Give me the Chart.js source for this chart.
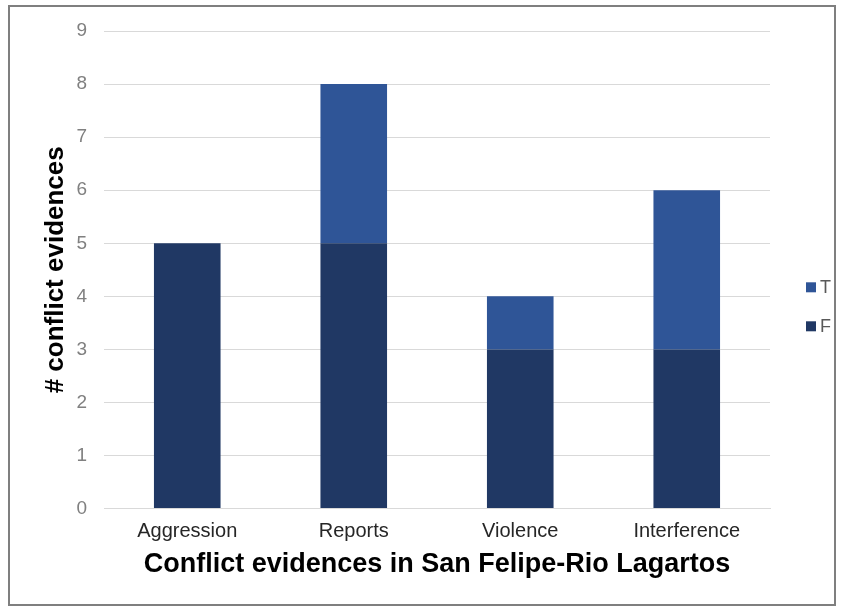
<!DOCTYPE html>
<html>
<head>
<meta charset="utf-8">
<script src="https://cdn.jsdelivr.net/npm/chart.js@4/dist/chart.umd.min.js"></script>
<style>
  html, body { margin: 0; padding: 0; background: #ffffff; }
  #wrap { width: 843px; height: 609px; position: relative; }
</style>
</head>
<body>
<div id="wrap"><canvas id="chart" width="843" height="609"></canvas></div>
<script>
// Conflict evidence counts per category, split by flag F / T
const categories = ['Aggression', 'Reports', 'Violence', 'Interference'];
const valuesF = [5, 5, 3, 3];
const valuesT = [0, 3, 1, 3];
const yTicks = [0, 1, 2, 3, 4, 5, 6, 7, 8, 9];

const colorF = '#203864';
const colorT = '#2F5597';
const FONT = 'Liberation Sans, Arial, sans-serif';

// White background and grey frame around the whole figure
const framePlugin = {
  id: 'frame',
  beforeDraw(chart) {
    const ctx = chart.ctx;
    ctx.save();
    ctx.fillStyle = '#ffffff';
    ctx.fillRect(0, 0, chart.width, chart.height);
    ctx.strokeStyle = '#7f7f7f';
    ctx.lineWidth = 2;
    ctx.strokeRect(9, 6, 826, 599);
    ctx.restore();
  }
};

// Legend to the right of the plot: top item is the upper stack (T)
const sideLegend = {
  id: 'sideLegend',
  afterDraw(chart) {
    const ctx = chart.ctx;
    const area = chart.chartArea;
    const items = chart.data.datasets.map(d => ({ label: d.label, color: d.backgroundColor })).reverse();
    const box = 10, gap = 39;
    const x = area.right + 36;
    const midY = (area.top + area.bottom) / 2;
    let y = midY + 17.5;
    ctx.save();
    ctx.font = '18px ' + FONT;
    ctx.textBaseline = 'middle';
    items.forEach(it => {
      ctx.fillStyle = it.color;
      ctx.fillRect(x, y - box / 2, box, box);
      ctx.fillStyle = '#595959';
      ctx.fillText(it.label, x + box + 4, y + 1);
      y += gap;
    });
    ctx.restore();
  }
};

new Chart(document.getElementById('chart'), {
  type: 'bar',
  data: {
    labels: categories,
    datasets: [
      { label: 'F', data: valuesF, backgroundColor: colorF, borderWidth: 0 },
      { label: 'T', data: valuesT, backgroundColor: colorT, borderWidth: 0 }
    ]
  },
  options: {
    responsive: false,
    animation: false,
    layout: { padding: { left: 40, right: 73, top: 31, bottom: 28 } },
    datasets: { bar: { barPercentage: 0.4, categoryPercentage: 1.0 } },
    plugins: {
      tooltip: { enabled: false },
      legend: { display: false }
    },
    scales: {
      x: {
        stacked: true,
        grid: { display: false },
        border: { color: '#d9d9d9' },
        ticks: {
          color: '#262626',
          padding: 3,
          font: { family: FONT, size: 20 }
        },
        title: {
          display: true,
          text: 'Conflict evidences in San Felipe-Rio Lagartos',
          color: '#000000',
          padding: { top: 2, bottom: 0 },
          font: { family: FONT, size: 27, weight: 'bold' }
        }
      },
      y: {
        stacked: true,
        min: 0,
        max: 9,
        afterBuildTicks(axis) { axis.ticks = yTicks.map(v => ({ value: v })); },
        afterFit(axis) { axis.width = 64; },
        grid: { color: '#d9d9d9', drawTicks: false },
        border: { display: false },
        ticks: {
          color: '#808080',
          padding: 17,
          font: { family: FONT, size: 19 }
        },
        title: {
          display: true,
          text: '# conflict evidences',
          color: '#000000',
          padding: { top: 0, bottom: 0 },
          font: { family: FONT, size: 26, weight: 'bold' }
        }
      }
    }
  },
  plugins: [framePlugin, sideLegend]
});
</script>
</body>
</html>
